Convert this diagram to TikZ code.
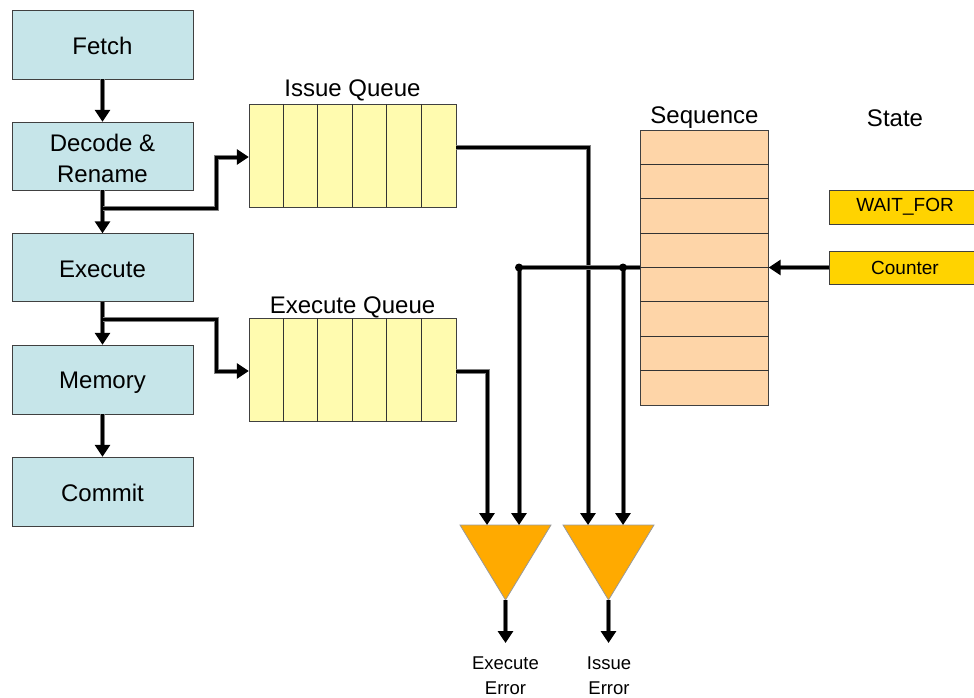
\documentclass[tikz,border=0pt]{standalone}
\usepackage{fontspec}
\setmainfont{Liberation Sans}
\usetikzlibrary{arrows.meta,calc}

\definecolor{stagefill}{RGB}{198,229,233}
\definecolor{queuefill}{RGB}{255,251,175}
\definecolor{seqfill}{RGB}{254,213,168}
\definecolor{statefill}{RGB}{255,211,0}
\definecolor{gatefill}{RGB}{255,170,0}

\begin{document}
\begin{tikzpicture}[x=1pt,y=-1pt,
  stage/.style={draw=black!75, fill=stagefill, minimum width=181pt, minimum height=69pt,
    inner sep=0pt},
  stagetext/.style={inner sep=0pt, align=center, font=\fontsize{24}{31}\selectfont},
  queue/.style={draw=black!75, fill=queuefill, minimum width=207pt, minimum height=103pt, inner sep=0pt},
  seqbox/.style={draw=black!75, fill=seqfill, minimum width=128pt, minimum height=275pt, inner sep=0pt},
  statebox/.style={draw=black!75, fill=statefill, minimum width=152pt, minimum height=34pt,
    inner sep=0pt, font=\fontsize{19}{23}\selectfont},
  caption/.style={anchor=base, inner sep=0pt, font=\fontsize{24}{29}\selectfont},
  errlabel/.style={anchor=north, inner sep=0pt, align=center, font=\fontsize{18.5}{25}\selectfont},
  cellline/.style={draw=black!80, line width=0.8pt},
  gate/.style={fill=gatefill, draw=black!40, line width=0.8pt},
  link/.style={line width=3pt, preaction={draw=black!50, line width=5pt}},
  feed/.style={line width=3pt, -{Triangle[length=12pt,width=15pt]},
    preaction={draw=black!50, line width=5pt, -, shorten >=10pt}}
]
\useasboundingbox (0,0) rectangle (974,698);

% pipeline stages
\node[stage, label={[stagetext, yshift=-1.5pt]center:Fetch}] (fetch) at (102.5,44.5) {};
\node[stage, minimum height=68pt, label={[stagetext, yshift=-2.5pt]center:{Decode \&\\Rename}}] (dec) at (102.5,156) {};
\node[stage, minimum height=68pt, label={[stagetext, yshift=-1.5pt]center:Execute}] (exe) at (102.5,267.5) {};
\node[stage, label={[stagetext, yshift=-3pt]center:Memory}] (mem) at (102.5,379.5) {};
\node[stage, label={[stagetext, yshift=-1pt]center:Commit}] (com) at (102.5,491.5) {};

% issue and execute queues with six slots each
\node[queue] (iq) at (352.5,155.5) {};
\node[queue] (eq) at (352.5,370) {};
\foreach \q in {iq,eq}
  \foreach \k in {1,...,5}
    \draw[cellline] ($(\q.north west)+(\k*34.5,0)$) -- ($(\q.south west)+(\k*34.5,0)$);
\node[caption] (iqlabel) at (352.5,97) {Issue Queue};
\node[caption] (eqlabel) at (352.5,313) {Execute Queue};

% sequence table with eight rows
\node[seqbox] (seq) at (704.5,267.5) {};
\foreach \k in {1,...,7}
  \draw[cellline] ($(seq.north west)+(0,\k*34.375)$) -- ($(seq.north east)+(0,\k*34.375)$);
\node[caption] (seqlabel) at (704.5,124) {Sequence};

% state registers
\node[caption] (statelabel) at (895,127) {State};
\node[statebox] (wait) at (905,207) {WAIT\_FOR};
\node[statebox, minimum height=33pt] (cnt) at (905,267.5) {Counter};

% error detectors
\draw[gate] (460,525) -- (551,525) -- (505.5,600) -- cycle;
\draw[gate] (563,525) -- (654,525) -- (608.5,600) -- cycle;
\coordinate (apex1) at (505.5,600);
\coordinate (apex2) at (608.5,600);
\coordinate (in1) at (487,525);
\coordinate (in2) at (519,525);
\coordinate (in3) at (588,525);
\coordinate (in4) at (623,525);
\coordinate (out1) at (505.5,643);
\coordinate (out2) at (608.5,643);

% junction points
\coordinate (j1) at (216,208);
\coordinate (j2) at (216,319);
\coordinate (d1) at (519,267.5);
\coordinate (d2) at (623,267.5);

% pipeline flow
\draw[feed] (fetch) -- (dec);
\draw[feed] (dec) -- (exe);
\draw[feed] (exe) -- (mem);
\draw[feed] (mem) -- (com);

% stage outputs into the queues
\draw[feed] (dec.south |- j1) -- (j1) |- ($(iq.west)+(0,1.5)$);
\draw[feed] (exe.south |- j2) -- (j2) |- ($(eq.west)+(0,1)$);

% queue outputs into the detectors
\draw[feed] ($(iq.east)+(0,-8.5)$) -| (in3);
\draw[feed] ($(eq.east)+(0,1)$) -| (in1);

% sequence entry fanned out to both detectors
\draw[link] (seq.west) -- (d1);
\draw[feed] (d1) -- (in2);
\draw[feed] (d2) -- (in4);
\fill (d1) circle (4pt);
\fill (d2) circle (4pt);

% counter selects the sequence entry
\draw[feed] (cnt) -- (seq);

% detector outputs
\draw[feed] (apex1) -- (out1);
\draw[feed] (apex2) -- (out2);
\node[errlabel] (eerr) at (505.5,657) {Execute\\Error};
\node[errlabel] (ierr) at (609,657) {Issue\\Error};
\end{tikzpicture}
\end{document}
